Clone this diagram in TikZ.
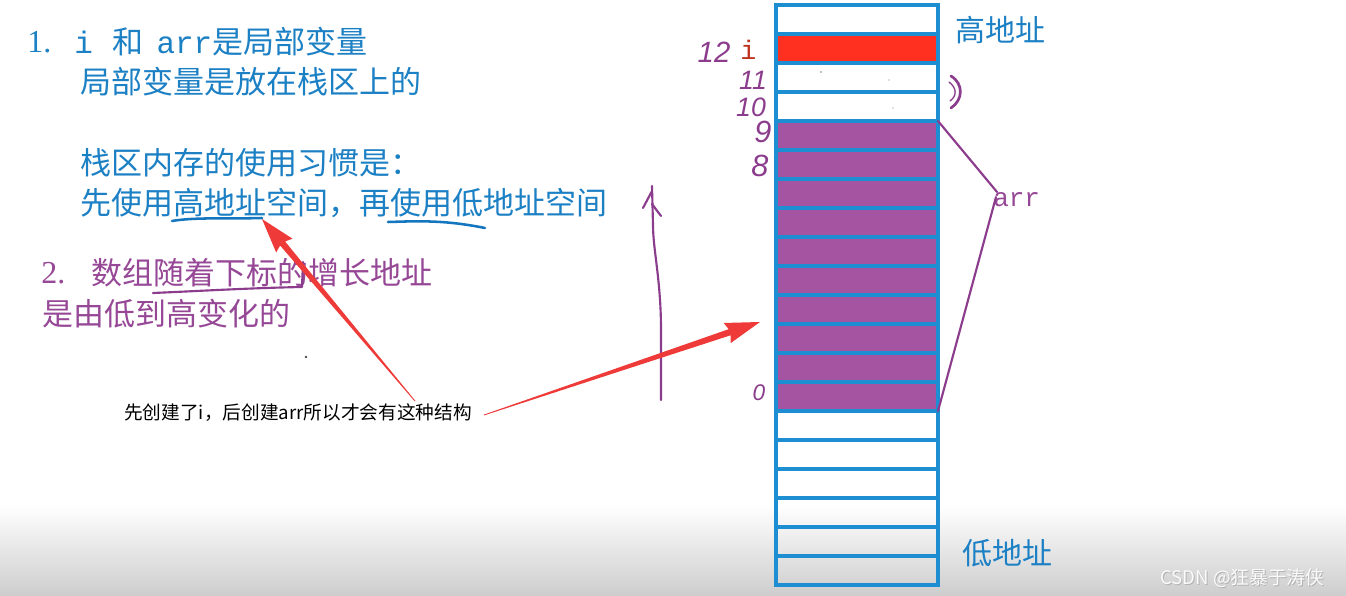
\documentclass[tikz,border=0pt]{standalone}
\usepackage{fontspec}
\setmainfont{Liberation Serif}
\newfontfamily\cjk{Noto Sans CJK SC}
\newfontfamily\mono{Liberation Mono}
\newfontfamily\hand{Liberation Sans}
\usetikzlibrary{calc}
\definecolor{cellblue}{RGB}{30,142,210}
\definecolor{txtblue}{RGB}{28,128,196}
\definecolor{arrpurple}{RGB}{164,84,160}
\definecolor{txtpurple}{RGB}{150,72,150}
\definecolor{inkpurple}{RGB}{140,60,140}
\definecolor{cellred}{RGB}{255,48,32}
\definecolor{arrowred}{RGB}{238,58,56}
\definecolor{ired}{RGB}{190,50,30}
\definecolor{inkblue}{RGB}{20,118,190}
\begin{document}
\begin{tikzpicture}[x=0.75pt,y=-0.75pt,
  cell/.style={draw=cellblue, line width=2.4pt, minimum width=121.5pt, minimum height=21.75pt, inner sep=0pt, outer sep=0pt},
  arrcell/.style={cell, fill=arrpurple},
  redcell/.style={cell, fill=cellred},
  bigtxt/.style={inner sep=0pt, anchor=west, font=\cjk\fontsize{23.25pt}{28pt}\selectfont},
  bluetxt/.style={bigtxt, text=txtblue},
  purptxt/.style={bigtxt, text=txtpurple},
  addrtxt/.style={inner sep=0pt, anchor=west, text=txtblue, font=\cjk\fontsize{22.5pt}{27pt}\selectfont},
  notetxt/.style={inner sep=0pt, anchor=west, text=black, font=\cjk\fontsize{14pt}{17pt}\selectfont},
  handnum/.style={inner sep=0pt, text=inkpurple, font=\hand\itshape\fontsize{20pt}{24pt}\selectfont},
  inkline/.style={draw=inkpurple, line width=1.6pt, line cap=round, line join=round},
  blueink/.style={draw=inkblue, line width=1.9pt, line cap=round},
  redarrow/.style={fill=arrowred, draw=none}
]
% background
\fill[white] (0,0) rectangle (1346,596);
\shade[top color=white, bottom color={rgb,255:red,205;green,205;blue,205}] (0,505) rectangle (1346,596);

% memory cells
\foreach \k in {0,...,19}{
  \pgfmathsetmacro\yy{19.5+29*\k}
  \ifnum\k=1
    \node[redcell] (c\k) at (857,\yy) {};
  \else\ifnum\k>3 \ifnum\k<14
    \node[arrcell] (c\k) at (857,\yy) {};
  \else
    \node[cell] (c\k) at (857,\yy) {};
  \fi\else
    \node[cell] (c\k) at (857,\yy) {};
  \fi\fi
}
% tiny marks in white cells
\fill[gray] (821,72) circle (0.6pt);
\fill[gray] (889,80) circle (0.5pt);
\fill[gray] (893,108) circle (0.5pt);

% left texts
\node[bluetxt, font=\fontsize{24pt}{28pt}\selectfont] (n1) at (27,42) {1.};
\node[bluetxt] (t1) at (74,42) {{\mono i}\hspace{14.5pt}和\hspace{10pt}{\mono arr}是局部变量};
\node[bluetxt] (t2) at (80,82) {局部变量是放在栈区上的};
\node[bluetxt] (t3) at (80,163) {栈区内存的使用习惯是：};
\node[bluetxt] (t4) at (80,203) {先使用高地址空间，再使用低地址空间};
\node[purptxt, font=\fontsize{24pt}{28pt}\selectfont] (n2) at (41,273) {2.};
\node[purptxt] (t5) at (91,273) {数组随着下标的增长地址};
\node[purptxt] (t6) at (42,314) {是由低到高变化的};
\fill[black!70] (306,357) circle (1pt);

% underlines
\draw[blueink] (172,221) .. controls (195,217) and (230,219) .. (262,218);
\draw[blueink] (388,222) .. controls (420,221) and (445,220) .. (485,228);
\draw[inkline] (153,293) .. controls (200,291) and (250,288) .. (302,287) -- (303,262);

% right labels
\node[addrtxt] (hi) at (955,30) {高地址};
\node[addrtxt] (lo) at (962,553) {低地址};
\node[inner sep=0pt, anchor=west, text=txtpurple, font=\mono\fontsize{19.5pt}{23pt}\selectfont] (arr) at (993,200) {arr};
\node[inner sep=0pt, anchor=west, text=ired, font=\mono\fontsize{20pt}{24pt}\selectfont] (ilab) at (740,50) {i};

% handwritten indices
\node[handnum, font=\hand\itshape\fontsize{22pt}{26pt}\selectfont] (h12) at (714,52) {12};
\node[handnum] (h11) at (753,80) {11};
\node[handnum] (h10) at (751,107) {10};
\node[handnum, font=\hand\itshape\fontsize{23pt}{26pt}\selectfont] (h9) at (763,132) {9};
\node[handnum, font=\hand\itshape\fontsize{23pt}{26pt}\selectfont] (h8) at (760,166) {8};
\node[handnum, font=\hand\itshape\fontsize{17pt}{20pt}\selectfont] (h0) at (759,393) {0};

% bracket to arr
\coordinate (apex) at (997,192);
\draw[inkline] (c4.north east) -- (apex);
\draw[inkline] ($(apex)+(-1,5)$) -- (c13.south east);
% ")" mark
\draw[inkline, line width=2pt] (951,76) .. controls (964,84) and (963,100) .. (951,108);
\draw[inkline, line width=1pt] (949,82) .. controls (957,88) and (957,96) .. (950,101);

% hand drawn up arrow
\coordinate (vb) at (661,400);
\coordinate (vt) at (652,186);
\draw[inkline] (vb) -- (661,330) .. controls (661,280) and (653,250) .. (653,225) -- (vt);
\draw[inkline] (643,208) -- (652,191);
\draw[inkline] (652,204) -- (661,216);

% annotation
\node[notetxt] (note) at (124,413) {先创建了i，后创建arr所以才会有这种结构};

% red arrows (tapered)
\coordinate (s1) at (415,401);
\coordinate (e1) at (262,219);
\coordinate (b1) at ($(e1)!24pt!(s1)$);
\fill[redarrow] ($(s1)!0.3pt!90:(e1)$) -- ($(b1)!2.4pt!90:(e1)$) -- ($($(b1)!2pt!(s1)$)!8pt!90:(e1)$) -- (e1) -- ($($(b1)!2pt!(s1)$)!8pt!-90:(e1)$) -- ($(b1)!2.4pt!-90:(e1)$) -- ($(s1)!0.3pt!-90:(e1)$) -- cycle;
\coordinate (s2) at ($(note.east)+(12,2)$);
\coordinate (e2) at (760,322);
\coordinate (b2) at ($(e2)!24pt!(s2)$);
\fill[redarrow] ($(s2)!0.3pt!90:(e2)$) -- ($(b2)!2.4pt!90:(e2)$) -- ($($(b2)!2pt!(s2)$)!8pt!90:(e2)$) -- (e2) -- ($($(b2)!2pt!(s2)$)!8pt!-90:(e2)$) -- ($(b2)!2.4pt!-90:(e2)$) -- ($(s2)!0.3pt!-90:(e2)$) -- cycle;

% watermark
\node[inner sep=0pt, anchor=west, text=gray!60, font=\cjk\fontsize{14pt}{16pt}\selectfont] at (1160.8,578.8) {CSDN @狂暴于涛侠};
\node[inner sep=0pt, anchor=west, text=white!97!gray, font=\cjk\fontsize{14pt}{16pt}\selectfont] (wm) at (1160,578) {CSDN @狂暴于涛侠};
\end{tikzpicture}
\end{document}
